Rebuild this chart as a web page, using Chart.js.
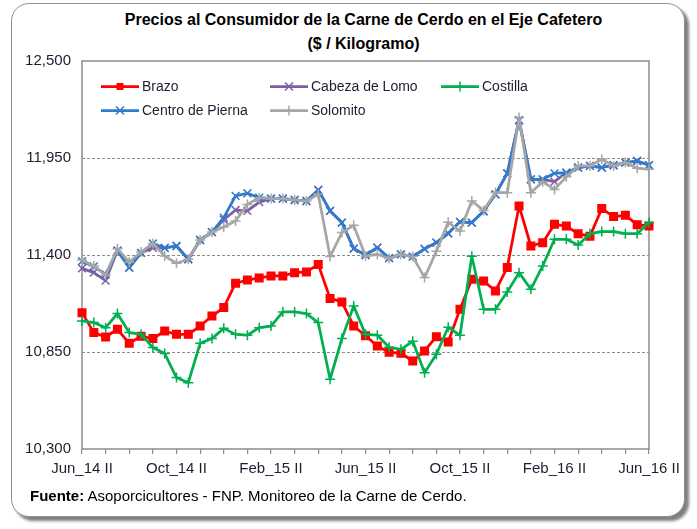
<!DOCTYPE html>
<html><head><meta charset="utf-8">
<script src="https://cdn.jsdelivr.net/npm/chart.js@4/dist/chart.umd.min.js"></script>
<style>
html,body{margin:0;padding:0;background:#fff;}
body{width:697px;height:529px;position:relative;overflow:hidden;font-family:"Liberation Sans",Arial,sans-serif;}
#frame{position:absolute;left:11px;top:3px;width:672px;height:512px;border:1px solid #8f8f8f;border-radius:18px;background:#fff;box-shadow:4px 4px 3px rgba(0,0,0,0.5);}
#wrap{position:absolute;left:0;top:0;width:697px;height:529px;}
#title{position:absolute;left:0;top:8px;width:727px;text-align:center;font-weight:bold;font-size:16px;line-height:24px;color:#000;}
#source{position:absolute;left:30px;top:487px;font-size:15px;line-height:18px;color:#000;white-space:nowrap;}
</style></head>
<body>
<div id="frame"></div>
<div id="title">Precios al Consumidor de la Carne de Cerdo en el Eje Cafetero<br>($ / Kilogramo)</div>
<div id="wrap"><canvas id="c" width="697" height="529"></canvas></div>
<div id="source"><b>Fuente:</b> Asoporcicultores - FNP. Monitoreo de la Carne de Cerdo.</div>
<script>
const categories = [
 'Jun_14 II','Jul_14 I','Jul_14 II','Ago_14 I','Ago_14 II','Sep_14 I','Sep_14 II','Oct_14 I','Oct_14 II',
 'Nov_14 I','Nov_14 II','Dic_14 I','Dic_14 II','Ene_15 I','Ene_15 II','Feb_15 I','Feb_15 II',
 'Mar_15 I','Mar_15 II','Abr_15 I','Abr_15 II','May_15 I','May_15 II','Jun_15 I','Jun_15 II',
 'Jul_15 I','Jul_15 II','Ago_15 I','Ago_15 II','Sep_15 I','Sep_15 II','Oct_15 I','Oct_15 II',
 'Nov_15 I','Nov_15 II','Dic_15 I','Dic_15 II','Ene_16 I','Ene_16 II','Feb_16 I','Feb_16 II',
 'Mar_16 I','Mar_16 II','Abr_16 I','Abr_16 II','May_16 I','May_16 II','Jun_16 I','Jun_16 II'
];
const brazo = [11073,10960,10935,10979,10899,10939,10926,10969,10950,10950,10997,11054,11102,
 11240,11258,11270,11281,11281,11300,11304,11346,11154,11134,10997,
 10942,10884,10848,10843,10799,10856,10937,10907,11092,11262,11253,11196,
 11329,11678,11451,11470,11574,11564,11521,11506,11663,11618,11625,11572,11564];
const cabezaDeLomo = [11324,11300,11255,11425,11329,11412,11440,11440,11451,11376,11485,11530,11600,
 11655,11650,11700,11720,11720,11712,11706,11769,11650,11584,11436,
 11400,11442,11382,11404,11391,11435,11470,11523,11588,11584,11648,11744,
 11863,12164,11829,11829,11816,11867,11896,11905,11896,11909,11924,11933,11909];
const costilla = [11026,11017,10988,11068,10960,10950,10875,10841,10705,10676,10899,10926,10984,
 10950,10945,10988,10997,11077,11077,11068,11017,10695,10926,11111,
 10950,10945,10877,10865,10911,10733,10837,10990,10945,11393,11092,11092,
 11190,11300,11206,11338,11489,11489,11457,11521,11533,11533,11521,11521,11584];
const centroDePierna = [11365,11335,11290,11425,11329,11412,11465,11440,11451,11376,11485,11530,11612,
 11735,11750,11725,11720,11720,11712,11706,11769,11650,11584,11436,
 11400,11442,11382,11404,11391,11435,11470,11523,11588,11584,11648,11744,
 11863,12164,11829,11829,11863,11867,11896,11905,11896,11909,11924,11933,11909];
const solomito = [11372,11338,11285,11436,11360,11417,11465,11394,11353,11376,11485,11530,11559,
 11593,11687,11725,11720,11720,11712,11706,11744,11391,11527,11568,
 11394,11404,11380,11404,11391,11272,11421,11585,11536,11706,11653,11754,
 11753,12179,11753,11815,11772,11843,11905,11905,11943,11905,11924,11892,11886];
const yTicks = [10300, 10850, 11400, 11950, 12500];

const FONT = '"Liberation Sans", Arial, sans-serif';
const TXT = '#1e1e30';
const AXIS = '#8c8c8c';

function series(label, data, color, style, radius, order) {
  return {
    label, data, order,
    borderColor: color, backgroundColor: color,
    borderWidth: 2.75, tension: 0, clip: false,
    borderJoinStyle: 'round', borderCapStyle: 'round',
    pointStyle: style, pointRadius: radius, pointHoverRadius: radius,
    pointBorderWidth: 1.5, pointBorderColor: color, pointBackgroundColor: color
  };
}
const COLORS = {brazo:'#ff0000', cabeza:'#7e5ea8', costilla:'#00b050', centro:'#2f7ccc', solomito:'#a6a6a6'};
const datasets = [
  series('Brazo', brazo, COLORS.brazo, 'rect', 5.3, 4),
  series('Cabeza de Lomo', cabezaDeLomo, COLORS.cabeza, 'crossRot', 5.5, 3),
  series('Costilla', costilla, COLORS.costilla, 'cross', 5, 2),
  series('Centro de Pierna', centroDePierna, COLORS.centro, 'crossRot', 5.5, 1),
  series('Solomito', solomito, COLORS.solomito, 'cross', 5, 0)
];

function marker(ctx, style, x, y, color) {
  ctx.save();
  ctx.strokeStyle = color; ctx.fillStyle = color; ctx.lineWidth = 1.5;
  if (style === 'rect') { ctx.fillRect(x - 3.5, y - 3.5, 7, 7); }
  else if (style === 'cross') { ctx.beginPath(); ctx.moveTo(x-5,y); ctx.lineTo(x+5,y); ctx.moveTo(x,y-5); ctx.lineTo(x,y+5); ctx.stroke(); }
  else { ctx.beginPath(); ctx.moveTo(x-4,y-4); ctx.lineTo(x+4,y+4); ctx.moveTo(x-4,y+4); ctx.lineTo(x+4,y-4); ctx.stroke(); }
  ctx.restore();
}

const frameAndLegend = {
  id: 'frameAndLegend',
  beforeDatasetsDraw(chart) {
    const {ctx, chartArea: a} = chart;
    ctx.save();
    ctx.strokeStyle = AXIS; ctx.lineWidth = 1.5;
    ctx.strokeRect(a.left, a.top, a.right - a.left, a.bottom - a.top);
    ctx.restore();
  },
  afterDraw(chart) {
    const {ctx, chartArea: a} = chart;
    const cols = [a.left + 19, a.left + 188, a.left + 359];
    const rows = [a.top + 25.5, a.top + 49.5];
    const place = [[0,0],[1,0],[2,0],[0,1],[1,1]];
    chart.data.datasets.forEach((d, i) => {
      const [c, r] = place[i];
      const x = cols[c], y = rows[r];
      ctx.save();
      ctx.strokeStyle = d.borderColor; ctx.lineWidth = 2.75;
      ctx.beginPath(); ctx.moveTo(x, y); ctx.lineTo(x + 38, y); ctx.stroke();
      ctx.restore();
      marker(ctx, d.pointStyle, x + 19, y, d.borderColor);
      ctx.save();
      ctx.fillStyle = TXT; ctx.font = '14px ' + FONT;
      ctx.textBaseline = 'middle'; ctx.textAlign = 'left';
      ctx.fillText(d.label, x + 41, y + 1);
      ctx.restore();
    });
  }
};

new Chart(document.getElementById('c'), {
  type: 'line',
  data: { labels: categories, datasets },
  options: {
    responsive: false, animation: false,
    layout: { padding: { left: 0, top: 61, right: 48, bottom: 50 } },
    plugins: { legend: { display: false }, tooltip: { enabled: false }, title: { display: false } },
    scales: {
      x: {
        type: 'category', offset: false,
        grid: { drawOnChartArea: false, drawTicks: true, tickLength: 5, lineWidth: 1.2,
                color: c => (c.index % 2 === 0 ? AXIS : 'rgba(0,0,0,0)') },
        border: { display: false },
        ticks: { autoSkip: false, maxRotation: 0, minRotation: 0, padding: 6, color: TXT,
                 font: { family: FONT, size: 15 },
                 callback: (v, i) => (i % 8 === 0 ? categories[i] : '') },
        afterFit: s => { s.height = 30; }
      },
      y: {
        min: yTicks[0], max: yTicks[yTicks.length - 1],
        afterBuildTicks: s => { s.ticks = yTicks.map(v => ({ value: v })); },
        grid: { drawTicks: false, lineWidth: 1, borderDash: [3, 2],
                color: c => (c.tick && (c.tick.value === yTicks[0] || c.tick.value === yTicks[yTicks.length-1]) ? 'rgba(0,0,0,0)' : AXIS) },
        border: { display: false, dash: [3, 2] },
        ticks: { padding: 11, color: TXT, font: { family: FONT, size: 15 },
                 callback: v => Number(v).toLocaleString('en-US') },
        afterFit: s => { s.width = 82; }
      }
    }
  },
  plugins: [frameAndLegend]
});
</script>
</body></html>
